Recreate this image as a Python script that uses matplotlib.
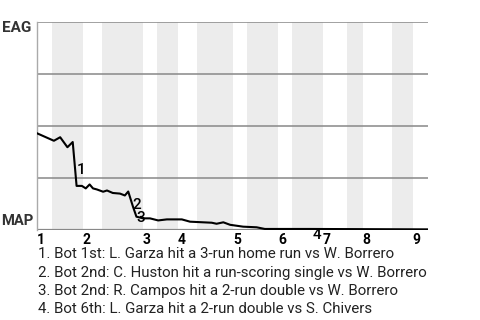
import matplotlib
matplotlib.use("Agg")
import matplotlib.pyplot as plt

# win probability for EAG (0 = MAP wins, 1 = EAG wins), by plate appearance
play_x = [0, 3.5, 4.8, 6.3, 7.4, 8.2, 9.3, 10.1, 10.9, 11.6, 12.4, 13.7, 14.5,
          15.7, 17.2, 18.2, 18.9, 19.9, 20.6, 22.0, 23.4, 25.1, 26.9, 30.0,
          31.7, 36.2, 37.2, 38.6, 40.0, 42.7, 45.5, 47.2, 56.5, 81.0]
win_prob = [0.465, 0.429, 0.446, 0.398, 0.423, 0.212, 0.212, 0.200, 0.219,
            0.200, 0.195, 0.184, 0.190, 0.178, 0.175, 0.166, 0.185, 0.111,
            0.064, 0.056, 0.056, 0.046, 0.051, 0.051, 0.040, 0.035, 0.030,
            0.037, 0.025, 0.016, 0.013, 0.005, 0.005, 0.003]

inning_starts = [0, 9.5, 21.9, 29.2, 40.6, 49.9, 59.2, 67.5, 77.8]
bottom_starts = [3.1, 13.5, 24.8, 33.1, 43.5, 52.8, 64.2, 73.5]
inning_labels = ["1", "2", "3", "4", "5", "6", "7", "8", "9"]
x_end = 81.0

team_top = "EAG"
team_bottom = "MAP"

# key plays: label, x, y of the marker text
event_ids = ["1", "2", "3", "4"]
event_x = [8.2, 19.7, 20.6, 57.0]
event_y = [0.288, 0.12, 0.058, -0.024]
event_text = [
    "1. Bot 1st: L. Garza hit a 3-run home run vs W. Borrero",
    "2. Bot 2nd: C. Huston hit a run-scoring single vs W. Borrero",
    "3. Bot 2nd: R. Campos hit a 2-run double vs W. Borrero",
    "4. Bot 6th: L. Garza hit a 2-run double vs S. Chivers",
]

plt.rcParams["font.family"] = ["Roboto", "DejaVu Sans"]

fig = plt.figure(figsize=(4.8, 3.2), dpi=100)
ax = fig.add_axes([37 / 480, 1 - 230 / 320, 391 / 480, 208 / 320])

# shaded bottom halves
for i, b in enumerate(bottom_starts):
    end = inning_starts[i + 1] if i + 1 < len(inning_starts) else x_end
    ax.axvspan(b, end, color="#ececec", lw=0, zorder=0)

for y in [0.25, 0.5, 0.75, 1.0]:
    ax.axhline(y, color="#888888", lw=1.1, zorder=1)
ax.axhline(0, color="#888888", lw=1.6, zorder=1)

ax.plot(play_x, win_prob, color="black", lw=1.5, zorder=3)

for lab, ex, ey in zip(event_ids, event_x, event_y):
    ax.text(ex, ey, lab, ha="left", va="center", fontsize=11,
            fontweight="medium", color="black", zorder=4, clip_on=False)

ax.set_xlim(0, x_end)
ax.set_ylim(0, 1)
ax.set_yticks([])
ax.set_xticks(inning_starts)
ax.set_xticklabels(inning_labels, fontsize=10, fontweight="bold", ha="left")
ax.tick_params(axis="x", length=0, pad=2)
for s in ["top", "right", "bottom"]:
    ax.spines[s].set_visible(False)
ax.spines["left"].set_color("#aaaaaa")
ax.spines["left"].set_linewidth(1)

fig.text(31 / 480, 1 - 28.5 / 320, team_top, ha="right", va="center",
         fontsize=11, fontweight="bold", color="#333333")
fig.text(33.5 / 480, 1 - 221 / 320, team_bottom, ha="right", va="center",
         fontsize=10.6, fontweight="bold", color="#333333")

for i, t in enumerate(event_text):
    fig.text(38 / 480, 1 - (258.5 + 18.1 * i) / 320, t, ha="left",
             va="baseline", fontsize=10.8, color="#222222")

fig.savefig("out.png", dpi=100)
